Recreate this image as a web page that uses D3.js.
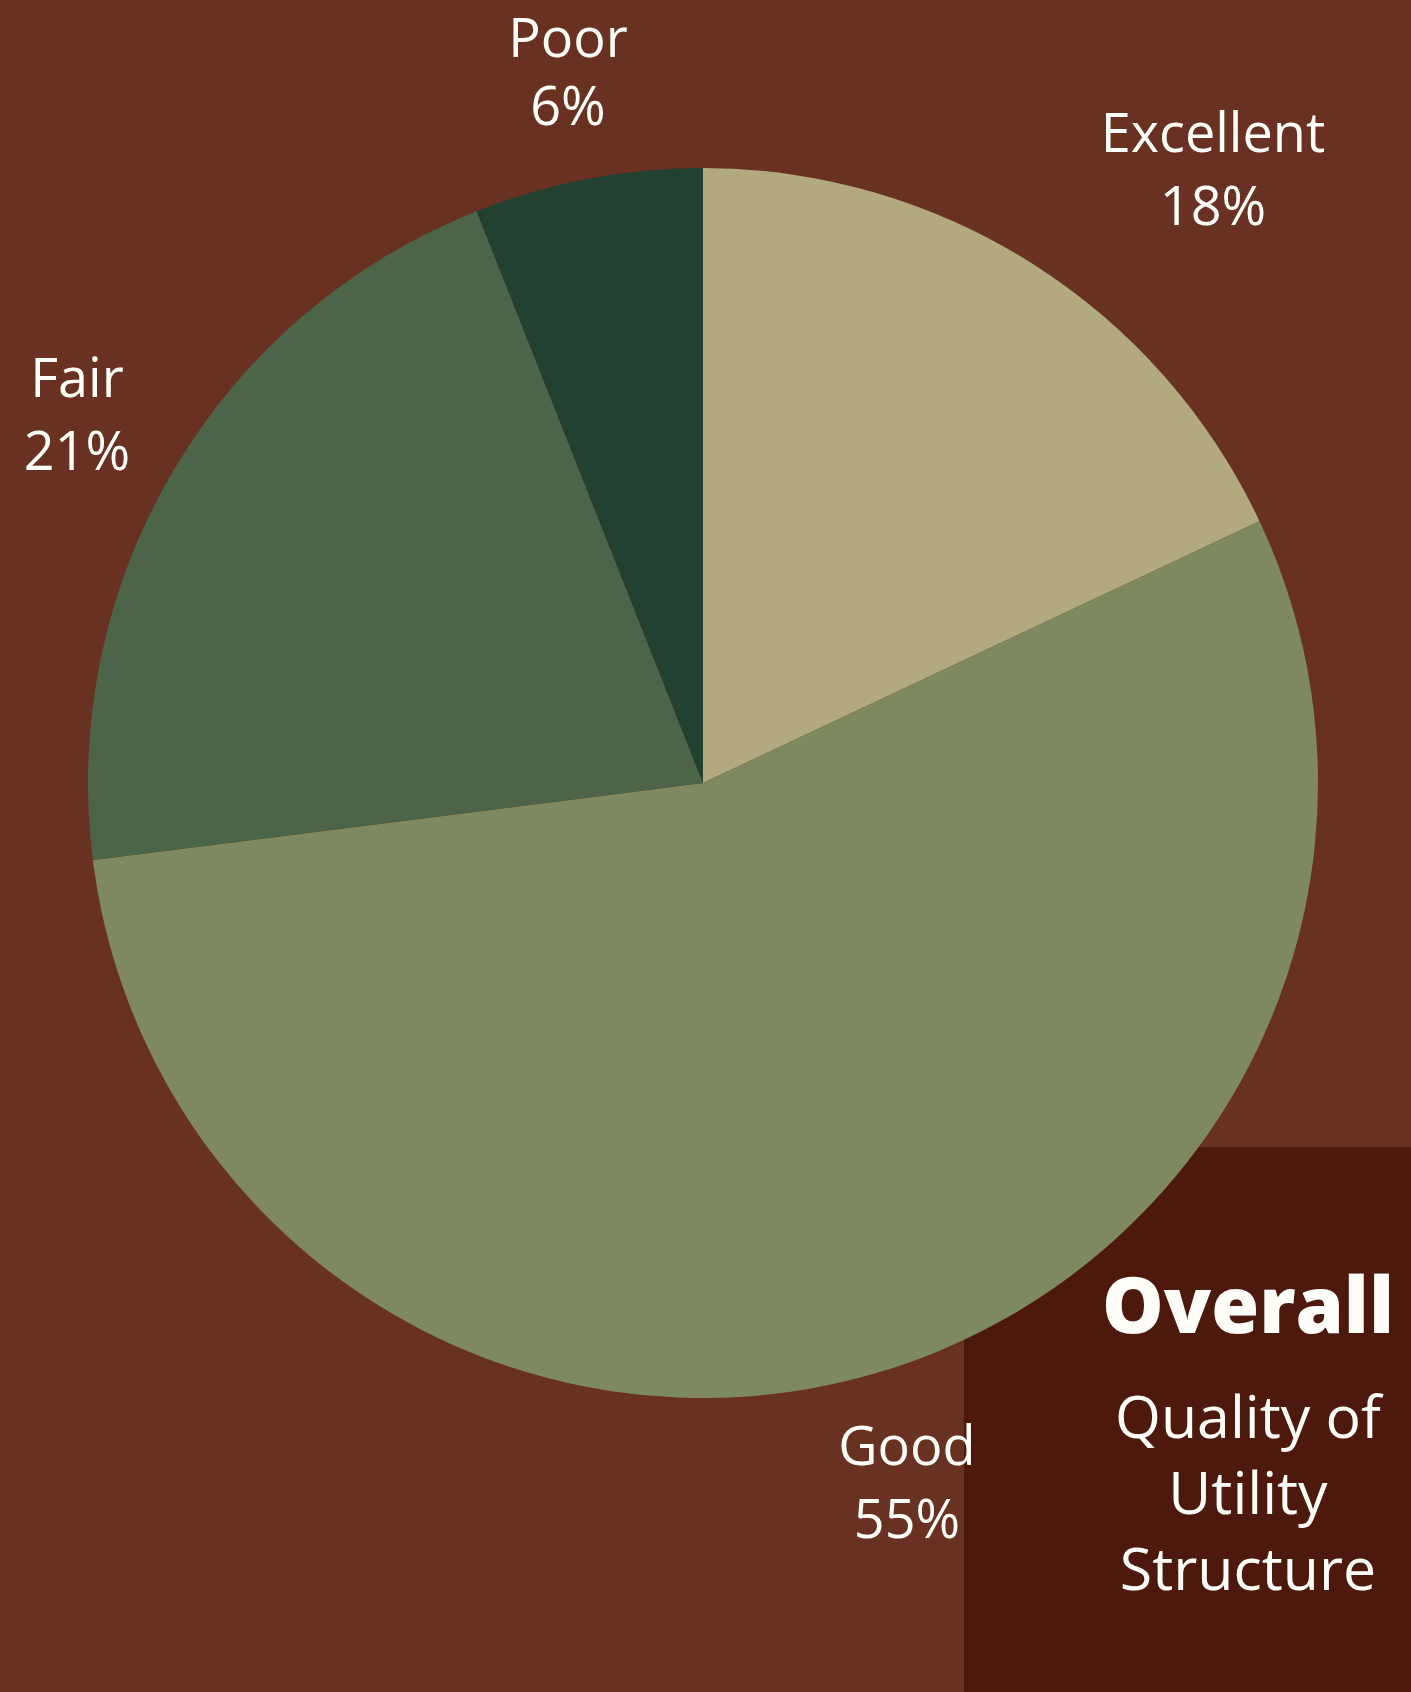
<!DOCTYPE html>
<html>
<head>
<meta charset="utf-8">
<script src="https://cdn.jsdelivr.net/npm/d3@7"></script>
<style>
  html, body { margin: 0; padding: 0; background: #683121; }
  svg { display: block; }
</style>
</head>
<body>
<svg id="chart" width="1411" height="1692"></svg>
<script>
// ---- data ----
const categories = ["Excellent", "Good", "Fair", "Poor"];
const values = [18, 55, 21, 6];
const valueLabels = ["18%", "55%", "21%", "6%"];
const sliceColors = ["#b3a97f", "#7e8960", "#4c6448", "#234131"];
const titleText = "Overall";
const subtitleLines = ["Quality of", "Utility", "Structure"];

// ---- layout ----
const W = 1411, H = 1692;
const cx = 703, cy = 783, R = 615;
const svg = d3.select("#chart");

svg.append("rect").attr("width", W).attr("height", H).attr("fill", "#683121");
// dark side panel (behind the pie)
svg.append("rect").attr("x", 964).attr("y", 1147).attr("width", W - 964).attr("height", H - 1147).attr("fill", "#4d190c");

const pie = d3.pie().sort(null).value(d => d.v).startAngle(0).endAngle(2 * Math.PI);
const arc = d3.arc().innerRadius(0).outerRadius(R);
const data = categories.map((c, i) => ({ c, v: values[i], lab: valueLabels[i], col: sliceColors[i] }));

const g = svg.append("g").attr("transform", `translate(${cx},${cy})`);
g.selectAll("path").data(pie(data)).join("path")
  .attr("d", arc).attr("fill", d => d.data.col);

// label positions (anchored outside the pie, as in the reference): [x, name baseline, value baseline]
const labelPos = {
  "Excellent": [1213, 152, 225],
  "Good": [907, 1465, 1538],
  "Fair": [77, 397, 470],
  "Poor": [568, 57, 125]
};
const lbl = svg.append("g").attr("font-family", "'Open Sans', sans-serif").attr("font-size", 54)
  .attr("fill", "#fffef9").attr("text-anchor", "middle");
data.forEach(d => {
  const [x, y1, y2] = labelPos[d.c];
  lbl.append("text").attr("x", x).attr("y", y1).text(d.c);
  lbl.append("text").attr("x", x).attr("y", y2).text(d.lab);
});

// title
const t = svg.append("text").attr("x", 1248).attr("y", 1333)
  .attr("text-anchor", "middle").attr("font-family", "'Open Sans', sans-serif")
  .attr("font-weight", 800).attr("font-size", 80).attr("fill", "#fffef9").text(titleText);
const tw = t.node().getComputedTextLength();
t.attr("font-size", 80 * 292 / tw);

subtitleLines.forEach((s, i) => {
  svg.append("text").attr("x", 1248).attr("y", 1438 + i * 76)
    .attr("text-anchor", "middle").attr("font-family", "'Open Sans', sans-serif")
    .attr("font-size", 59).attr("fill", "#fffef9").text(s);
});
</script>
</body>
</html>
